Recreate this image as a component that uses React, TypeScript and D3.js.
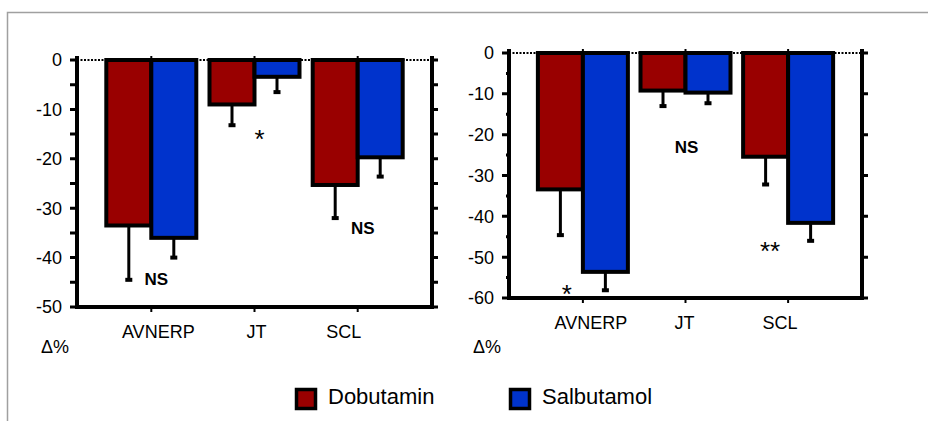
import * as d3 from "d3";
import React from "react";

const width = 928;
const height = 421;

const categories = ["AVNERP", "JT", "SCL"];
const seriesNames = ["Dobutamin", "Salbutamol"];
const seriesColors = ["#990000", "#0033cc"];

// left panel: mean change (%) and SD
const leftDobutamin = [-33.5, -9.0, -25.3];
const leftDobutaminSd = [11.0, 4.2, 6.7];
const leftSalbutamol = [-36.0, -3.4, -19.7];
const leftSalbutamolSd = [4.0, 3.1, 3.9];

// right panel
const rightDobutamin = [-33.4, -9.2, -25.4];
const rightDobutaminSd = [11.2, 3.8, 6.8];
const rightSalbutamol = [-53.6, -9.7, -41.6];
const rightSalbutamolSd = [4.5, 2.6, 4.4];

const leftTicks = [0, -10, -20, -30, -40, -50];
const rightTicks = [0, -10, -20, -30, -40, -50, -60];

// significance marks: category, text, baseline value
const leftMarks = [
  { cat: "AVNERP", text: "NS", value: -45.5, dx: 5 },
  { cat: "JT", text: "*", value: -17.8, dx: 5 },
  { cat: "SCL", text: "NS", value: -35.2, dx: 5 },
];
const rightMarks = [
  { cat: "AVNERP", text: "*", value: -61.3, dx: -16 },
  { cat: "JT", text: "NS", value: -24.5, dx: 1 },
  { cat: "SCL", text: "**", value: -50.7, dx: -18 },
];

const font = "Liberation Sans, Arial, sans-serif";
const barWidth = 45;
const lw = 4; // heavy line width

type Panel = {
  x0: number;
  x1: number;
  top: number;
  bottom: number;
  min: number;
  ticks: number[];
  values: number[][];
  sds: number[][];
  marks: { cat: string; text: string; value: number; dx: number }[];
  labelDx: number[];
  minorLen: number;
};

const panels: Panel[] = [
  {
    x0: 77,
    x1: 432,
    top: 60,
    bottom: 307,
    min: -50,
    ticks: leftTicks,
    values: [leftDobutamin, leftSalbutamol],
    sds: [leftDobutaminSd, leftSalbutamolSd],
    marks: leftMarks,
    labelDx: [7, 2, -14],
    minorLen: 7,
  },
  {
    x0: 509,
    x1: 862,
    top: 53,
    bottom: 298,
    min: -60,
    ticks: rightTicks,
    values: [rightDobutamin, rightSalbutamol],
    sds: [rightDobutaminSd, rightSalbutamolSd],
    marks: rightMarks,
    labelDx: [8, -1, -8],
    minorLen: 3,
  },
];

const BarPanel = ({ p }: { p: Panel }) => {
  const x = d3
    .scalePoint<string>()
    .domain(categories)
    .range([p.x0, p.x1])
    .padding(0.72);
  const y = d3.scaleLinear().domain([0, p.min]).range([p.top, p.bottom]);
  const minor = p.ticks.slice(0, -1).map((t) => t - 5);

  // axis frame: left side, bottom, right side
  const frame = d3.path();
  frame.moveTo(p.x0, p.top - 2);
  frame.lineTo(p.x0, p.bottom);
  frame.lineTo(p.x1, p.bottom);
  frame.lineTo(p.x1, p.top - 2);

  const tickPath = d3.path();
  p.ticks.forEach((t) => {
    tickPath.moveTo(p.x0 - 7, y(t));
    tickPath.lineTo(p.x0, y(t));
    tickPath.moveTo(p.x1, y(t));
    tickPath.lineTo(p.x1 + 6, y(t));
  });
  minor.forEach((t) => {
    tickPath.moveTo(p.x0 - p.minorLen, y(t));
    tickPath.lineTo(p.x0, y(t));
    tickPath.moveTo(p.x1, y(t));
    tickPath.lineTo(p.x1 + p.minorLen - 1, y(t));
  });

  return (
    <g>
      {/* dotted zero line */}
      <line
        x1={p.x0}
        x2={p.x1}
        y1={y(0)}
        y2={y(0)}
        stroke="#000"
        strokeWidth={2}
        strokeDasharray="2,1.5"
      />
      {/* bars */}
      {p.values.map((vals, s) =>
        vals.map((v, i) => {
          const cx = x(categories[i])!;
          const bx = s === 0 ? cx - barWidth : cx;
          return (
            <rect
              key={`b${s}-${i}`}
              x={bx}
              y={y(0)}
              width={barWidth}
              height={y(v) - y(0)}
              fill={seriesColors[s]}
              stroke="#000"
              strokeWidth={lw}
            />
          );
        })
      )}
      {/* error bars */}
      {p.values.map((vals, s) =>
        vals.map((v, i) => {
          const cx = x(categories[i])! + (s === 0 ? -barWidth / 2 : barWidth / 2);
          const yEnd = y(v - p.sds[s][i]);
          return (
            <g key={`e${s}-${i}`}>
              <line x1={cx} x2={cx} y1={y(v)} y2={yEnd} stroke="#000" strokeWidth={3} />
              <rect x={cx - 3.5} y={yEnd - 2} width={7} height={4} fill="#000" />
            </g>
          );
        })
      )}
      {/* axes */}
      <path d={frame.toString()} fill="none" stroke="#000" strokeWidth={lw} strokeLinecap="square" />
      <path d={tickPath.toString()} fill="none" stroke="#000" strokeWidth={3} />
      {p.ticks.map((t) => (
        <text
          key={`t${t}`}
          x={p.x0 - 15}
          y={y(t)}
          dy="0.36em"
          textAnchor="end"
          fontFamily={font}
          fontSize={18}
        >
          {String(t)}
        </text>
      ))}
      {categories.map((c, i) => (
        <g key={c}>
          <line x1={x(c)} x2={x(c)} y1={p.top - 4} y2={p.top} stroke="#000" strokeWidth={2} />
          <line x1={x(c)} x2={x(c)} y1={p.bottom} y2={p.bottom + 5} stroke="#000" strokeWidth={2} />
          <text
            x={x(c)! + p.labelDx[i]}
            y={p.bottom + 31}
            textAnchor="middle"
            fontFamily={font}
            fontSize={18}
          >
            {c}
          </text>
        </g>
      ))}
      <text x={p.x0 - 22} y={353} textAnchor="middle" fontFamily={font} fontSize={18}>
        Δ%
      </text>
      {p.marks.map((m) => (
        <text
          key={m.cat + m.text}
          x={x(m.cat)! + m.dx}
          y={y(m.value)}
          textAnchor="middle"
          fontFamily={font}
          fontSize={m.text === "NS" ? 17 : 26}
          fontWeight={m.text === "NS" ? "bold" : "normal"}
        >
          {m.text}
        </text>
      ))}
    </g>
  );
};

const legendX = [295, 509];

const App = () => (
  <div style={{ position: "fixed", left: 0, top: 0 }}>
    <svg width={width} height={height} style={{ display: "block", background: "#fff" }}>
      <rect x={7.5} y={12.5} width={1000} height={600} fill="none" stroke="#a0a0a0" strokeWidth={1.5} />
      {panels.map((p, i) => (
        <BarPanel key={i} p={p} />
      ))}
      {seriesNames.map((name, i) => (
        <g key={name}>
          <rect
            x={legendX[i] + 1.5}
            y={389.5}
            width={19}
            height={19}
            fill={seriesColors[i]}
            stroke="#000"
            strokeWidth={3.5}
          />
          <text x={legendX[i] + 33} y={404} fontFamily={font} fontSize={22}>
            {name}
          </text>
        </g>
      ))}
    </svg>
  </div>
);

export default App;
